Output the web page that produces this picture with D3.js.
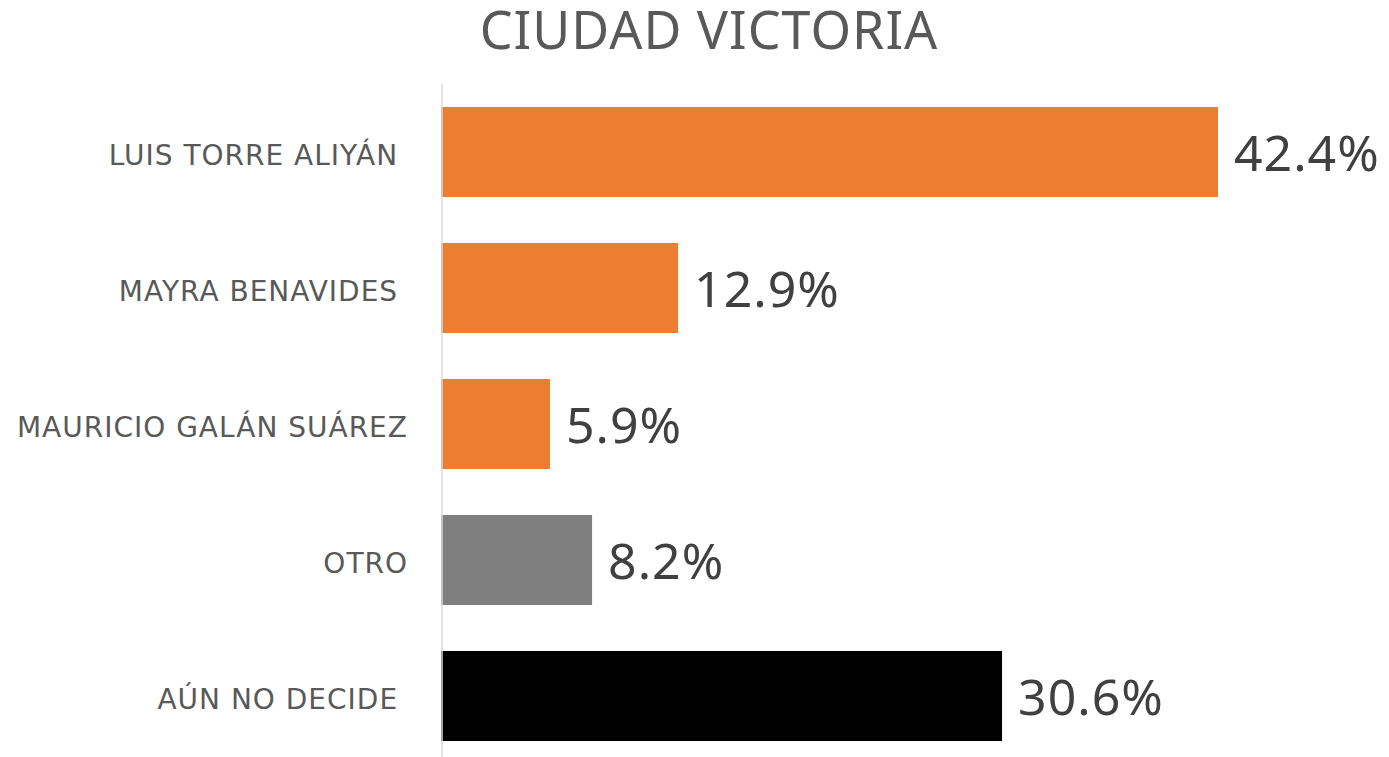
<!DOCTYPE html>
<html>
<head>
<meta charset="utf-8">
<script src="https://cdn.jsdelivr.net/npm/d3@7"></script>
<style>
  body { margin: 0; background: #fff; }
  svg text { font-family: "Noto Sans", sans-serif; white-space: pre; }
  svg .tick text { font-family: "DejaVu Sans", sans-serif; }
</style>
</head>
<body>
<div id="chart"></div>
<script>
// data
let categories = ["LUIS TORRE ALIYÁN ", "MAYRA BENAVIDES ", "MAURICIO GALÁN SUÁREZ", "OTRO", "AÚN NO DECIDE "];
let values = [42.4, 12.9, 5.9, 8.2, 30.6];
let barColors = ["#ED7D31", "#ED7D31", "#ED7D31", "#7F7F7F", "#000000"];
let title = "CIUDAD VICTORIA";

let width = 1389,
    height = 757,
    left = 442;

let svg = d3.select("#chart")
    .append("svg")
    .attr("width", width)
    .attr("height", height);

let x = d3.scaleLinear()
    .domain([0, 42.4])
    .range([left, 1218]);

let y = d3.scaleBand()
    .domain(categories)
    .range([84, 764])
    .paddingInner(0.338)
    .paddingOuter(0.169);

svg.append("text")
    .attr("x", 709)
    .attr("y", 49)
    .attr("text-anchor", "middle")
    .attr("font-size", 52)
    .attr("letter-spacing", 1)
    .attr("fill", "#595959")
    .text(title);

svg.selectAll("rect.bar")
    .data(values)
    .enter()
    .append("rect")
    .attr("class", "bar")
    .attr("x", x(0) - 1)
    .attr("y", (d, i) => y(categories[i]))
    .attr("width", d => x(d) - x(0) + 1)
    .attr("height", y.bandwidth())
    .attr("fill", (d, i) => barColors[i]);

// category axis
let axis = svg.append("g")
    .attr("transform", "translate(" + left + ",0)")
    .call(d3.axisLeft(y).tickSize(0).tickPadding(34));

axis.select(".domain")
    .attr("stroke", "#D9D9D9")
    .attr("stroke-width", 1.5)
    .attr("d", "M0,84V757");

axis.selectAll("text")
    .attr("font-size", 28)
    .attr("letter-spacing", 1)
    .attr("dy", "0.45em")
    .attr("fill", "#595959");

svg.selectAll("text.value")
    .data(values)
    .enter()
    .append("text")
    .attr("class", "value")
    .attr("x", d => x(d) + 16)
    .attr("y", (d, i) => y(categories[i]) + y.bandwidth() / 2)
    .attr("dy", "0.38em")
    .attr("font-size", 50)
    .attr("letter-spacing", 1)
    .attr("fill", "#404040")
    .text(d => d.toFixed(1) + "%");
</script>
</body>
</html>
